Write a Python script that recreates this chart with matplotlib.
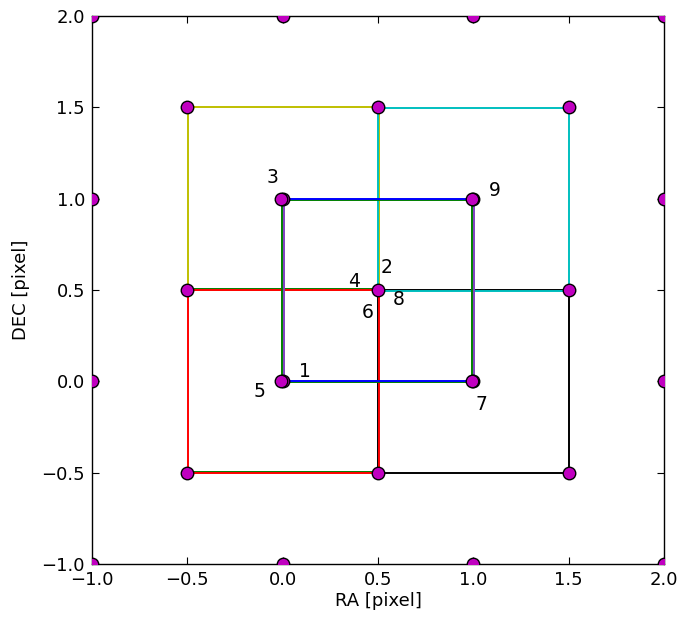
import matplotlib
matplotlib.use("Agg")
import matplotlib.pyplot as plt

# Output pixel squares: (x0, y0, x1, y1) and line colour, drawn in this order
square_names = ["yellow", "black", "cyan", "red"]
square_x0 = [-0.496, 0.5, 0.5, -0.496]
square_y0 = [0.5, -0.5, 0.496, -0.5]
square_x1 = [0.504, 1.5, 1.5, 0.504]
square_y1 = [1.5, 0.5, 1.496, 0.5]
square_colors = ["#bfbf00", "#000000", "#00bfbf", "#ff0000"]

# Extra green edges along the red square (drawn beneath it)
green_seg_x = [[-0.5, 0.5], [-0.5, 0.5]]
green_seg_y = [[0.506, 0.506], [-0.495, -0.495]]

# Edges of the central input pixel: (x0, y0, x1, y1) and colour
edge_x0 = [0.006, 1.006, -0.006, 0.994, -0.006, -0.006, 0.0, 0.0]
edge_y0 = [0.0, 0.0, -0.006, -0.006, -0.006, 0.994, 0.0, 1.0]
edge_x1 = [0.006, 1.006, -0.006, 0.994, 0.994, 0.994, 1.0, 1.0]
edge_y1 = [1.0, 1.0, 0.994, 0.994, -0.006, 0.994, 0.0, 1.0]
edge_colors = ["#7f3fbf", "#7f3fbf", "#007f00", "#007f00",
               "#007f00", "#007f00", "#0000ff", "#0000ff"]

# Corner points of input and output pixels
pt_x = [-1, 0, 1, 2, -1, 0, 1, 2, -1, 0, 1, 2, -1, 0, 1, 2,
        -0.5, 0.5, 1.5, -0.5, 0.5, 1.5, -0.5, 0.5, 1.5,
        -0.008, 0.992, -0.008, 0.992]
pt_y = [-1, -1, -1, -1, 0, 0, 0, 0, 1, 1, 1, 1, 2, 2, 2, 2,
        -0.5, -0.5, -0.5, 0.5, 0.5, 0.5, 1.5, 1.5, 1.5,
        0.0, 0.0, 1.0, 1.0]

# Vertex labels
label_text = ["1", "2", "3", "4", "5", "6", "7", "8", "9"]
label_x = [0.117, 0.547, -0.051, 0.374, -0.124, 0.447, 1.040, 0.610, 1.113]
label_y = [0.051, 0.621, 1.113, 0.544, -0.058, 0.374, -0.129, 0.446, 1.042]

fig = plt.figure(figsize=(6.83, 6.19), dpi=100)
ax = fig.add_axes([0.1347, 0.0889, 0.8375, 0.8853])

for sx, sy in zip(green_seg_x, green_seg_y):
    ax.plot(sx, sy, color="#007f00", lw=1.4, zorder=1.9)

for x0, y0, x1, y1, c in zip(square_x0, square_y0, square_x1, square_y1, square_colors):
    ax.plot([x0, x1, x1, x0, x0], [y0, y0, y1, y1, y0], color=c, lw=1.4, zorder=2)

for x0, y0, x1, y1, c in zip(edge_x0, edge_y0, edge_x1, edge_y1, edge_colors):
    ax.plot([x0, x1], [y0, y1], color=c, lw=1.4, zorder=2,
            solid_capstyle="butt")

ax.plot(pt_x, pt_y, "o", mfc="#c000c0", mec="black",
        mew=1.0, ms=9, linestyle="none", zorder=3)

for t, x, y in zip(label_text, label_x, label_y):
    ax.text(x, y, t, fontsize=13.5, ha="center", va="center", zorder=4)

ax.set_xlim(-1, 2)
ax.set_ylim(-1, 2)
ticks = [-1.0, -0.5, 0.0, 0.5, 1.0, 1.5, 2.0]
tick_labels = ["\u22121.0", "\u22120.5", "0.0", "0.5", "1.0", "1.5", "2.0"]
ax.set_xticks(ticks)
ax.set_yticks(ticks)
ax.set_xticklabels(tick_labels)
ax.set_yticklabels(tick_labels)
ax.tick_params(direction="in", top=True, right=True, length=5, width=0.8,
               labelsize=13, pad=5)
for s in ax.spines.values():
    s.set_linewidth(1.0)
ax.set_xlabel("RA [pixel]", fontsize=13, labelpad=2)
ax.set_ylabel("DEC [pixel]", fontsize=13, labelpad=8)

fig.savefig("out.png", dpi=100)
